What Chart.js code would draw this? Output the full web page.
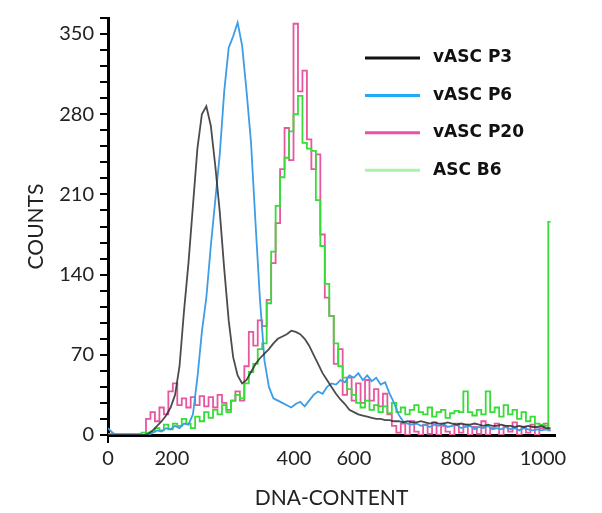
<!DOCTYPE html>
<html>
<head>
<meta charset="utf-8">
<script src="https://cdn.jsdelivr.net/npm/chart.js@4.4.1/dist/chart.umd.min.js"></script>
<style>
  html, body { margin: 0; padding: 0; background: #fff; }
  #wrap { width: 602px; height: 513px; }
</style>
</head>
<body>
<div id="wrap"><canvas id="histChart" width="602" height="513"></canvas></div>
<script>
// DNA content channels (x) and counts per sample
const channels = [
  0, 10, 20, 30, 40, 50, 60, 70, 80, 90,
  100, 110, 120, 130, 140, 150, 160, 170, 180, 190,
  200, 210, 220, 230, 240, 250, 260, 270, 280, 290,
  300, 310, 320, 330, 340, 350, 360, 370, 380, 390,
  400, 410, 420, 430, 440, 450, 460, 470, 480, 490,
  500, 510, 520, 530, 540, 550, 560, 570, 580, 590,
  600, 610, 620, 630, 640, 650, 660, 670, 680, 690,
  700, 710, 720, 730, 740, 750, 760, 770, 780, 790,
  800, 810, 820, 830, 840, 850, 860, 870, 880, 890,
  900, 910, 920, 930, 940, 950, 960, 970, 980, 990
];

const vascP3 = [
  0, 0, 0, 0, 0, 0, 0, 0, 0, 1,
  4, 8, 12, 17, 24, 35, 60, 108, 150, 200,
  250, 280, 287, 270, 235, 195, 145, 100, 68, 52,
  45, 48, 55, 62, 67, 71, 75, 80, 84, 86,
  88, 91, 90, 88, 84, 78, 70, 62, 54, 48,
  42, 36, 31, 27, 22, 20, 18, 17, 16, 15,
  14, 14, 13, 13, 12, 12, 11, 12, 11, 11,
  12, 11, 10, 11, 10, 10, 11, 10, 9, 10,
  9, 9, 10, 9, 8, 9, 8, 8, 9, 8,
  8, 7, 8, 7, 8, 7, 7, 8, 6, 6
];

const vascP6 = [
  6, 2, 0, 0, 0, 0, 0, 0, 0, 0,
  2, 4, 3, 6, 5, 8, 6, 10, 9, 18,
  50, 90, 120, 165, 205, 245, 300, 338, 348, 360,
  340, 300, 255, 185, 118, 65, 42, 32, 30, 28,
  26, 24, 27, 29, 25, 30, 35, 38, 36, 42,
  45, 44, 48, 46, 52, 50, 54, 48, 52, 47,
  50, 44, 46, 36, 28, 18, 12, 10, 9, 10,
  8, 9, 7, 9, 8, 10, 7, 8, 9, 6,
  7, 8, 5, 7, 6, 8, 5, 6, 5, 7,
  5, 6, 4, 6, 5, 4, 5, 4, 5, 4
];

const vascP20 = [
  0, 0, 0, 0, 0, 0, 0, 0, 0, 14,
  20, 12, 24, 18, 38, 45, 26, 32, 24, 33,
  26, 34, 25, 33, 24, 35, 28, 22, 30, 38,
  30, 60, 90, 78, 100, 95, 118, 150, 185, 232,
  268, 240, 359, 300, 318, 258, 232, 245, 175, 120,
  104, 62, 75, 35, 50, 30, 45, 28, 48, 30,
  40, 25, 36, 18, 8, 2, 10, 0, 12, 3,
  0, 9, 1, 11, 0, 8, 3, 0, 10, 2,
  9, 0, 7, 1, 12, 0, 6, 10, 0, 8,
  3, 11, 0, 7, 2, 9, 0, 6, 10, 4
];

const ascB6 = [
  1, 1, 1, 1, 1, 1, 1, 1, 2, 2,
  3, 6, 4, 9, 5, 10, 8, 14, 10, 6,
  16, 12, 20, 15, 22, 18, 26, 20, 30, 35,
  32, 45, 55, 62, 75, 80, 115, 160, 200, 225,
  242, 265, 280, 296, 255, 250, 248, 205, 165, 132,
  104, 80, 60, 50, 40, 35, 28, 24, 30, 22,
  26, 20, 25, 19, 28, 20, 24, 18, 22, 26,
  20, 18, 24, 16, 20, 22, 15, 19, 21, 20,
  38, 20, 17, 22, 18, 38, 20, 24, 16, 26,
  18, 22, 14, 20, 12, 16, 10, 9, 8, 186
];

const seriesNames = ['vASC P3', 'vASC P6', 'vASC P20', 'ASC B6'];

// x labels sit at uneven places on the axis in the original
const xTickPos = [0, 143, 416, 550, 783, 973];
const xTickLabels = ['0', '200', '400', '600', '800', '1000'];

const toPoints = arr => channels.map((c, i) => ({ x: c, y: arr[i] }));

const legendBox = {
  id: 'legendBox',
  afterDraw(chart) {
    const ctx = chart.ctx;
    ctx.save();
    ctx.font = 'bold 17px "DejaVu Sans"';
    ctx.textBaseline = 'middle';
    ctx.lineCap = 'butt';
    chart.data.datasets.forEach((ds, i) => {
      const y = 58 + i * 37.4;
      ctx.strokeStyle = ds.legendColor;
      ctx.lineWidth = 3;
      ctx.beginPath();
      ctx.moveTo(365, y);
      ctx.lineTo(420, y);
      ctx.stroke();
      ctx.fillStyle = '#111';
      ctx.fillText(ds.label, 433, y);
    });
    ctx.restore();
  }
};

const tickFont = { family: 'Lato', size: 20 };
const titleFont = { family: 'Lato', size: 21 };

new Chart(document.getElementById('histChart'), {
  type: 'line',
  data: {
    datasets: [
      { label: seriesNames[0], data: toPoints(vascP3), borderColor: 'rgba(45,45,45,0.85)', legendColor: '#111', borderWidth: 1.8, order: 0 },
      { label: seriesNames[1], data: toPoints(vascP6), borderColor: '#3d9de6', legendColor: '#1eaaff', borderWidth: 1.8, order: 1 },
      { label: seriesNames[2], data: toPoints(vascP20), borderColor: '#e6579f', legendColor: '#ee4fa8', borderWidth: 1.8, stepped: 'middle', order: 3 },
      { label: seriesNames[3], data: toPoints(ascB6), borderColor: '#38dc38', legendColor: '#a8f5a8', borderWidth: 1.8, stepped: 'middle', order: 2 }
    ]
  },
  options: {
    responsive: false,
    animation: false,
    devicePixelRatio: 1,
    layout: { padding: { top: 14, right: 47, left: 0, bottom: 0 } },
    elements: { point: { radius: 0 }, line: { tension: 0 } },
    plugins: { legend: { display: false }, tooltip: { enabled: false } },
    scales: {
      x: {
        type: 'linear',
        min: 0,
        max: 1000,
        afterBuildTicks: s => { s.ticks = xTickPos.map(v => ({ value: v })); },
        afterFit: s => { s.height = 78; },
        ticks: {
          callback: (v, i) => xTickLabels[i],
          autoSkip: false,
          maxRotation: 0,
          padding: 4,
          color: '#222',
          font: tickFont
        },
        grid: {
          drawOnChartArea: false,
          tickLength: 8,
          lineWidth: 2,
          color: c => c.index === 0 ? '#000' : 'rgba(0,0,0,0)'
        },
        border: { color: '#000', width: 3 },
        title: { display: true, text: 'DNA-CONTENT', color: '#222', font: titleFont, padding: { top: 0, bottom: 2 } }
      },
      y: {
        min: 0,
        max: 364,
        afterFit: s => { s.width = 108; },
        ticks: {
          stepSize: 14,
          autoSkip: false,
          callback: v => (v % 70 === 0 ? v : ''),
          padding: 6,
          color: '#222',
          font: tickFont
        },
        grid: { drawOnChartArea: false, tickLength: 8, lineWidth: 2, color: '#000' },
        border: { color: '#000', width: 3 },
        title: { display: true, text: 'COUNTS', color: '#222', font: titleFont, padding: { top: 24, bottom: 0 } }
      }
    }
  },
  plugins: [legendBox]
});
</script>
</body>
</html>
